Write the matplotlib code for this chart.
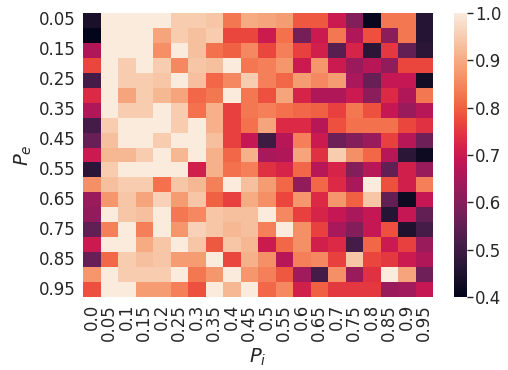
import numpy as np
import pandas as pd
import matplotlib.pyplot as plt
import seaborn as sns

# ================== DATA ==================

p_i = [0.0, 0.05, 0.1, 0.15, 0.2, 0.25, 0.3, 0.35, 0.4, 0.45,
       0.5, 0.55, 0.6, 0.65, 0.7, 0.75, 0.8, 0.85, 0.9, 0.95]
p_e = [0.05, 0.1, 0.15, 0.2, 0.25, 0.3, 0.35, 0.4, 0.45, 0.5,
       0.55, 0.6, 0.65, 0.7, 0.75, 0.8, 0.85, 0.9, 0.95]

scores = [
    [0.44, 1.00, 1.00, 1.00, 1.00, 0.95, 0.95, 0.94, 0.83, 0.90, 0.89, 0.88, 0.79, 0.79, 0.70, 0.60, 0.41, 0.83, 0.83, 0.46],
    [0.40, 1.00, 1.00, 1.00, 0.89, 0.95, 0.93, 0.95, 0.77, 0.77, 0.70, 0.82, 0.58, 0.70, 0.83, 0.66, 0.78, 0.61, 0.83, 0.46],
    [0.66, 1.00, 1.00, 1.00, 0.86, 1.00, 0.93, 0.82, 0.80, 0.85, 0.77, 0.84, 0.76, 0.71, 0.54, 0.72, 0.47, 0.75, 0.55, 0.47],
    [0.77, 1.00, 0.95, 1.00, 0.95, 0.85, 0.94, 0.93, 1.00, 0.83, 0.84, 0.87, 0.70, 0.87, 0.70, 0.63, 0.67, 0.62, 0.77, 0.77],
    [0.51, 1.00, 0.95, 0.95, 0.94, 1.00, 0.93, 0.81, 0.85, 0.95, 0.84, 0.81, 0.88, 0.85, 0.88, 0.65, 0.56, 0.69, 0.69, 0.43],
    [0.73, 1.00, 0.89, 0.95, 0.92, 0.89, 0.81, 0.83, 1.00, 0.83, 0.78, 0.89, 0.72, 0.66, 0.66, 0.70, 0.61, 0.73, 0.66, 0.83],
    [0.66, 1.00, 0.95, 0.95, 1.00, 0.95, 0.82, 0.91, 0.76, 0.83, 0.84, 0.82, 0.81, 0.80, 0.76, 0.83, 0.78, 0.69, 0.63, 0.67],
    [0.51, 0.95, 1.00, 1.00, 1.00, 0.95, 1.00, 0.91, 0.76, 0.82, 0.89, 0.73, 0.73, 0.67, 0.78, 0.82, 0.82, 0.82, 0.77, 0.74],
    [0.56, 0.93, 1.00, 1.00, 0.95, 1.00, 1.00, 0.93, 0.76, 0.69, 0.50, 0.67, 0.84, 0.70, 0.57, 0.60, 0.63, 0.76, 0.67, 0.57],
    [0.70, 0.92, 0.92, 0.95, 1.00, 0.92, 1.00, 0.91, 0.81, 0.91, 0.65, 0.66, 0.89, 0.74, 0.95, 0.86, 0.81, 0.67, 0.47, 0.42],
    [0.47, 0.95, 1.00, 1.00, 1.00, 1.00, 0.71, 0.91, 0.82, 0.84, 0.74, 0.72, 0.81, 0.67, 0.72, 0.60, 0.67, 0.55, 0.71, 0.63],
    [0.86, 0.93, 0.95, 0.95, 0.82, 0.94, 0.92, 0.84, 1.00, 0.93, 0.88, 0.81, 0.62, 0.81, 0.73, 0.65, 1.00, 0.78, 0.71, 0.84],
    [0.63, 0.87, 0.94, 0.89, 0.96, 0.88, 0.94, 0.80, 0.76, 0.90, 0.86, 0.77, 0.87, 0.73, 0.87, 0.80, 0.94, 0.55, 0.42, 0.69],
    [0.62, 1.00, 0.94, 0.93, 1.00, 0.83, 0.85, 0.94, 0.93, 0.93, 1.00, 0.85, 0.76, 0.72, 0.69, 0.65, 0.69, 0.46, 0.69, 0.55],
    [0.55, 0.84, 1.00, 0.84, 1.00, 0.87, 0.96, 0.94, 0.92, 0.93, 0.84, 1.00, 0.86, 0.76, 0.65, 0.60, 0.69, 0.78, 0.45, 0.51],
    [0.70, 1.00, 1.00, 0.90, 0.94, 1.00, 0.94, 0.79, 0.94, 0.92, 0.70, 0.81, 0.86, 0.71, 0.73, 0.51, 0.81, 0.70, 0.76, 0.63],
    [0.56, 0.81, 0.95, 0.93, 0.94, 0.88, 0.88, 1.00, 0.77, 0.91, 0.86, 0.67, 0.84, 0.85, 0.76, 0.94, 0.77, 0.75, 0.70, 0.66],
    [0.87, 1.00, 0.95, 0.95, 0.95, 1.00, 0.83, 0.87, 1.00, 0.87, 0.84, 0.79, 0.64, 0.51, 0.86, 0.63, 0.74, 1.00, 0.89, 0.57],
    [0.78, 1.00, 1.00, 0.88, 0.88, 0.84, 0.78, 1.00, 0.92, 1.00, 0.81, 0.85, 0.71, 0.80, 0.75, 0.75, 0.75, 0.63, 0.64, 0.69],
]

df = pd.DataFrame(scores, index=p_e, columns=p_i)

# ================== PLOT ==================

text_color = "#262626"
plt.rcParams["text.color"] = text_color
plt.rcParams["axes.labelcolor"] = text_color
plt.rcParams["xtick.color"] = text_color
plt.rcParams["ytick.color"] = text_color

W, H = 508, 370
fig = plt.figure(figsize=(W / 100, H / 100), dpi=100)
ax = fig.add_axes([83 / W, 1 - 297 / H, 350 / W, 284 / H])
cax = fig.add_axes([454 / W, 1 - 297 / H, 13 / W, 284 / H])

sns.heatmap(df, ax=ax, cbar_ax=cax, cmap="rocket", vmin=0.4, vmax=1.0,
            xticklabels=1, yticklabels=2)

ax.set_xlabel("$P_i$", fontsize=14)
ax.set_ylabel("$P_e$", fontsize=14)
ax.tick_params(axis="both", length=0, labelsize=12, pad=5)
plt.setp(ax.get_xticklabels(), rotation=90)
plt.setp(ax.get_yticklabels(), rotation=0)

cax.tick_params(length=4, width=1, labelsize=12, pad=2)
cax.set_yticks([0.4, 0.5, 0.6, 0.7, 0.8, 0.9, 1.0])

fig.savefig("out.png", dpi=100)
